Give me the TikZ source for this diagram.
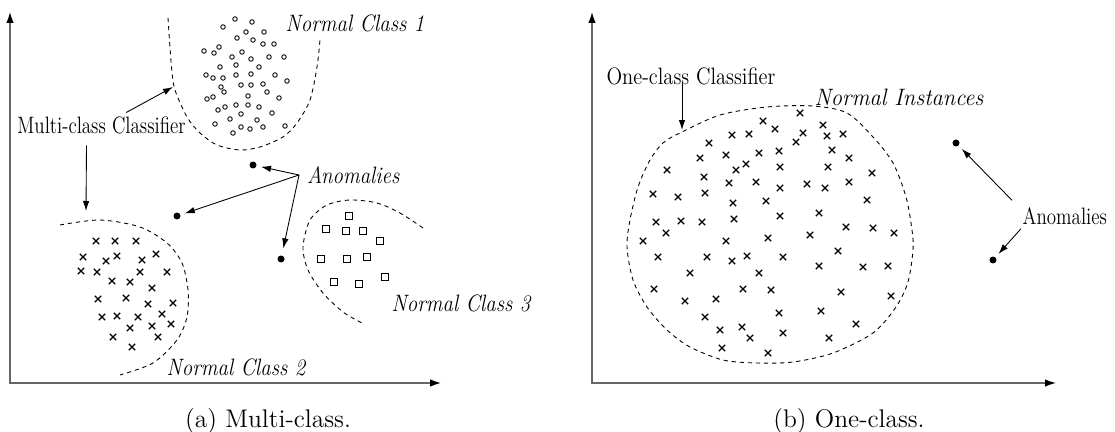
\documentclass[tikz,border=0pt]{standalone}
\usepackage{tikz}
\usetikzlibrary{arrows.meta,positioning,calc,shapes.misc}

\begin{document}
\begin{tikzpicture}[
  x=0.02cm, y=-0.02cm,
  >={Latex[length=2mm,width=1.3mm]},
  axis/.style={draw=black!60, line width=0.8pt,
               {Latex[length=2.2mm,width=1.5mm,color=black]}-{Latex[length=2.2mm,width=1.5mm,color=black]}},
  bound/.style={dash pattern=on 2.4pt off 2.2pt, line width=0.5pt},
  pointer/.style={->, line width=0.5pt, shorten >=2.5pt},
  circ/.style={draw, circle, line width=0.5pt, inner sep=0pt, minimum size=0.9mm},
  crs/.style={draw, cross out, line width=0.7pt, inner sep=0pt, minimum size=1.05mm},
  sq/.style={draw, rectangle, line width=0.6pt, inner sep=0pt, minimum size=1.25mm},
  anom/.style={fill, circle, inner sep=0pt, minimum size=1.4mm},
  lab/.style={font=\fontsize{13.5}{15}\selectfont, inner sep=2pt, xscale=0.8},
  ilab/.style={font=\fontsize{13.5}{15}\selectfont\itshape, inner sep=2pt, xscale=0.88},
  subcap/.style={font=\fontsize{14.5}{17}\selectfont}
]
\useasboundingbox (0,0) rectangle (1115,432);

% ---------- (a) multi-class ----------
\coordinate (yA) at (10,12);
\coordinate (xA) at (441,383);
\draw[axis] (yA) |- (xA);

% class 1: circles
\foreach \x/\y [count=\i] in {235/19, 252/22, 223/27, 246/32, 264/32, 237/38, 253/40, 263/44,
  274/44, 204/51, 219/47, 214/53, 242/52, 232/57, 269/57, 284/57, 251/59, 220/67, 236/65,
  259/67, 206/75, 213/78, 223/78, 236/75, 251/74, 275/75, 287/81, 221/87, 241/85, 251/85,
  263/84, 224/92, 267/92, 248/96, 207/99, 213/97, 279/98, 218/110, 225/107, 236/105,
  248/105, 259/107, 272/113, 241/114, 230/119, 257/120, 215/124, 241/127, 250/129,
  263/127, 285/126, 233/133}
  \node[circ] (o\i) at (\x,\y) {};

% class 2: crosses
\foreach \x/\y [count=\i] in {96/241, 115/241, 136/241, 83/257, 106/261, 117/256, 142/260,
  156/254, 81/271, 97/272, 140/272, 167/272, 112/281, 130/282, 152/288, 98/299, 126/298,
  148/304, 173/303, 102/317, 117/316, 138/317, 162/314, 130/328, 152/326, 171/324,
  113/337, 158/337, 132/347}
  \node[crs] (x\i) at (\x,\y) {};

% class 3: squares
\foreach \x/\y [count=\i] in {349/216, 326/229, 346/231, 363/231, 380/241, 321/259, 347/259,
  367/257, 385/277, 334/282, 359/284}
  \node[sq] (s\i) at (\x,\y) {};

% boundaries
\draw[bound] plot[smooth] coordinates {(168,18) (171.5,67) (175,90) (187,117) (200,133)
  (217,145) (240,150) (260,147) (283,137) (297,123) (310,100) (317,67) (320,40)};
\draw[bound] plot[smooth] coordinates {(60,225) (100,220) (140,227) (167,243) (182,263)
  (188,290) (187,317) (177,340) (153,363) (120,375)};
\draw[bound] plot[smooth] coordinates {(423,228) (400,213) (377,203) (350,200) (327,205)
  (310,220) (303,247) (308,270) (323,293) (343,312) (362,323)};

% anomalies
\node[anom] (an1) at (253,165) {};
\node[anom] (an2) at (177,216) {};
\node[anom] (an3) at (281,259) {};

% labels
\node[ilab] (nc1) at (355,23) {Normal Class 1};
\node[ilab] (nc2) at (236,367) {Normal Class 2};
\node[ilab] (nc3) at (461,303) {Normal Class 3};
\node[ilab, anchor=west, inner sep=5pt] (anomL) at (299,175) {Anomalies};
\node[lab] (mcc) at (101.5,125) {Multi-class Classifier};

\coordinate (c1in) at (173,87);
\coordinate (c2in) at (86,211);
\draw[pointer, shorten >=0pt] (mcc.22) -- (c1in);
\draw[pointer, shorten >=0pt] ($(mcc.south)+(-15,8)$) -- (c2in);
\draw[pointer] (anomL.west) -- (an1);
\draw[pointer] (anomL.west) -- (an2);
\draw[pointer, shorten >=4pt] (anomL.west) -- (an3);

\node[subcap] (capA) at (268,421) {(a) Multi-class.};

% ---------- (b) one-class ----------
\coordinate (yB) at (592,12);
\coordinate (xB) at (1056,383);
\draw[axis] (yB) |- (xB);

\foreach \x/\y [count=\i] in {800/113, 763/121, 775/129, 823/125, 732/135, 749/134, 803/133,
  796/142, 827/136, 843/134, 709/143, 700/158, 726/155, 759/153, 779/151, 832/150,
  849/158, 667/170, 736/170, 746/164, 780/167, 828/167, 872/173, 704/177, 729/183,
  756/182, 780/188, 807/184, 825/188, 849/182, 653/194, 678/197, 705/193, 733/203,
  766/201, 867/200, 656/222, 681/221, 702/222, 734/219, 780/216, 819/213, 666/233,
  643/241, 726/241, 768/238, 810/235, 846/227, 873/228, 894/233, 658/257, 707/257,
  732/261, 747/256, 783/257, 838/251, 819/266, 863/267, 888/266, 690/273, 759/273,
  654/289, 743/289, 771/290, 841/292, 891/296, 685/301, 716/299, 705/317, 779/313,
  821/311, 856/324, 720/330, 742/327, 750/338, 783/333, 829/338, 722/348, 768/353}
  \node[crs] (y\i) at (\x,\y) {};

\draw[bound] plot[smooth cycle] coordinates {(680,133) (720,115) (767,107) (813,106)
  (847,113) (873,137) (893,163) (906,197) (912,230) (913,250) (908,282) (896,307)
  (873,333) (833,353) (793,362) (757,363) (723,360) (690,347) (667,330) (647,307)
  (633,280) (627,247) (630,220) (638,187) (650,160) (663,143)};

\node[anom] (an4) at (956,143) {};
\node[anom] (an5) at (993,260) {};

\node[ilab, xscale=1.08] (ni) at (899,97) {Normal Instances};
\node[lab, inner sep=0pt, xscale=1.08] (occ) at (691,76) {One-class Classifier};
\node[lab, anchor=west, inner sep=1pt] (anomR) at (1021,216) {Anomalies};

\coordinate (ringin) at (682,130);
\draw[pointer, shorten >=0pt] ($(occ.south)+(-9,-1)$) -- (ringin);
\draw[pointer] ($(anomR.north west)+(-9,-5)$) -- (an4);
\draw[pointer] ($(anomR.south west)+(0,2)$) -- (an5);

\node[subcap] (capB) at (849,421) {(b) One-class.};

\end{tikzpicture}
\end{document}
